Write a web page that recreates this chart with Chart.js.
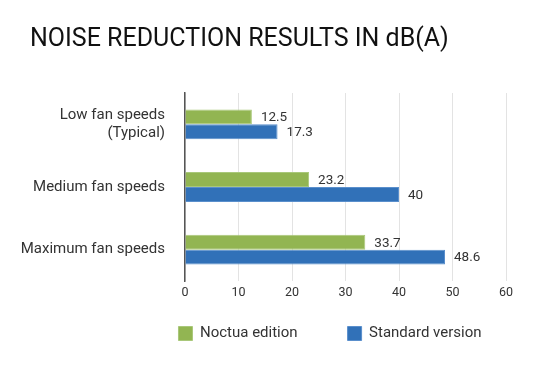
<!DOCTYPE html>
<html>
<head>
<meta charset="utf-8">
<script src="https://cdn.jsdelivr.net/npm/chart.js@4"></script>
<style>
  html, body { margin: 0; padding: 0; background: #fff; }
  #wrap { width: 554px; height: 369px; }
</style>
</head>
<body>
<div id="wrap"><canvas id="chart1"></canvas></div>
<script>
const categories = [["Low fan speeds", "(Typical)"], "Medium fan speeds", "Maximum fan speeds"];
const noctuaEdition = [12.5, 23.2, 33.7];
const standardVersion = [17.3, 40, 48.6];
const xTicks = [0, 10, 20, 30, 40, 50, 60];

const FONT = "Roboto";

// draw the value at the end of each bar
const valueLabels = {
  id: "valueLabels",
  afterDatasetsDraw(chart) {
    const ctx = chart.ctx;
    ctx.save();
    ctx.font = "13.5px " + FONT;
    ctx.fillStyle = "#333";
    ctx.textBaseline = "middle";
    chart.data.datasets.forEach((ds, i) => {
      chart.getDatasetMeta(i).data.forEach((bar, j) => {
        ctx.fillText(String(ds.data[j]), bar.x + 9, bar.y + 1);
      });
    });
    ctx.restore();
  },
};

// move the legend to where it sits in the picture
const legendShift = {
  id: "legendShift",
  afterLayout(chart) {
    const lg = chart.legend;
    const dx = 62;
    const dy = 335 - (lg.top + 50 + 9);
    lg.left += dx;
    lg.right += dx;
    lg.top += dy;
    lg.bottom += dy;
  },
};

const ctx = document.getElementById("chart1");
new Chart(ctx, {
  type: "bar",
  data: {
    labels: categories,
    datasets: [
      {
        label: "Noctua edition",
        data: noctuaEdition,
        backgroundColor: "#92b552",
        borderColor: "#a9c87a",
        borderWidth: 1,
      },
      {
        label: "Standard version",
        data: standardVersion,
        backgroundColor: "#3171b8",
        borderColor: "#5a8fcc",
        borderWidth: 1,
      },
    ],
  },
  plugins: [valueLabels, legendShift],
  options: {
    indexAxis: "y",
    responsive: true,
    maintainAspectRatio: false,
    animation: false,
    barPercentage: 1,
    categoryPercentage: 0.475,
    layout: {
      padding: { left: 30, right: 48, top: 0, bottom: -9 },
    },
    scales: {
      x: {
        min: 0,
        max: 60,
        afterBuildTicks(scale) {
          scale.ticks = xTicks.map((v) => ({ value: v }));
        },
        grid: { color: "#e3e3e3", drawTicks: false },
        border: { display: false },
        ticks: { color: "#333", font: { family: FONT, size: 12.5 }, padding: 4 },
        afterFit(scale) {
          scale.height = 22;
        },
      },
      y: {
        grid: { display: false },
        border: { display: true, color: "#555", width: 1.5 },
        ticks: { color: "#333", font: { family: FONT, size: 15 }, padding: 12 },
        afterFit(scale) {
          scale.width = 155;
          // labels run a little past the left padding
          scale._computeLabelArea = () => undefined;
        },
      },
    },
    plugins: {
      title: {
        display: true,
        text: "NOISE REDUCTION RESULTS IN dB(A)",
        align: "start",
        color: "#111",
        font: { family: FONT, size: 25, weight: "normal" },
        padding: { top: 25, bottom: 38 },
      },
      legend: {
        position: "bottom",
        labels: {
          color: "#333",
          font: { family: FONT, size: 15 },
          boxWidth: 14,
          boxHeight: 14,
          padding: 50,
        },
      },
      tooltip: { enabled: false },
    },
  },
});
</script>
</body>
</html>
